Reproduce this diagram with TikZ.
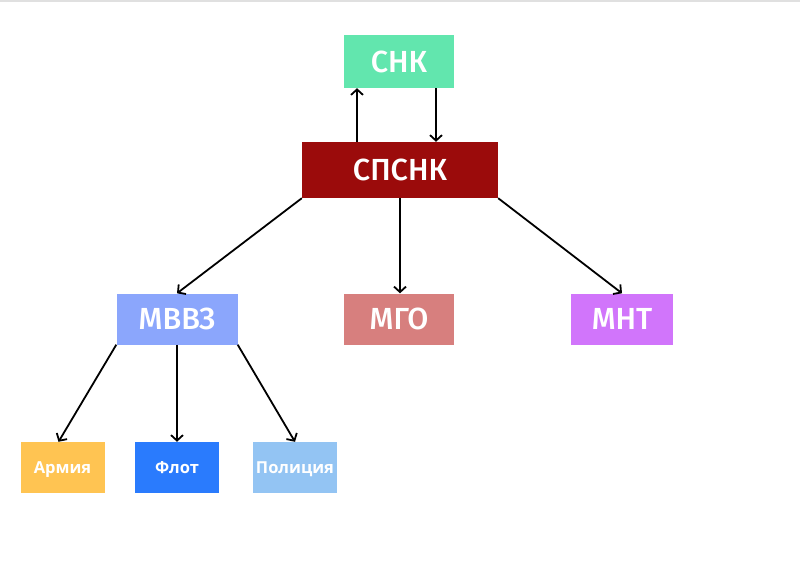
\documentclass[tikz,border=0pt]{standalone}
\usepackage{fontspec}
\setmainfont{Open Sans}
\newfontfamily\medfont{Fira Sans Medium}
\usetikzlibrary{arrows.meta}
\definecolor{cSNK}{HTML}{62E6AE}
\definecolor{cSPSNK}{HTML}{9B0B0B}
\definecolor{cMVVZ}{HTML}{8BA6FC}
\definecolor{cMGO}{HTML}{D77F7E}
\definecolor{cMNT}{HTML}{D175FB}
\definecolor{cArm}{HTML}{FFC452}
\definecolor{cFlot}{HTML}{2A7BFD}
\definecolor{cPol}{HTML}{93C4F3}
\tikzset{
  big/.style={inner sep=0pt, text=white, text depth=0pt, font=\medfont\fontsize{30.5}{33}\selectfont, minimum height=51pt},
  small/.style={inner sep=0pt, text=white, text depth=0pt, font=\fontsize{16.5}{19}\selectfont\bfseries, minimum height=51pt, minimum width=84pt},
  arr/.style={line width=1.8pt, -{Straight Barb[length=5.5pt,width=12pt,line width=1.8pt]}}
}
\begin{document}
\begin{tikzpicture}[x=1pt,y=-1pt]
\useasboundingbox (0,0) rectangle (800,571);
\fill[white] (0,0) rectangle (800,571);
\draw[black!12, line width=1.5pt] (0,0.75) -- (800,0.75);
\node[big, fill=cSNK, minimum width=110pt, minimum height=53pt] (snk) at (399,61.5) {СНК};
\node[big, fill=cSPSNK, minimum width=196pt, minimum height=56pt] (spsnk) at (400,170) {СПСНК};
\node[big, fill=cMVVZ, minimum width=121pt] (mvvz) at (177,319) {МВВЗ};
\node[big, fill=cMGO, minimum width=110pt] (mgo) at (399,319) {МГО};
\node[big, fill=cMNT, minimum width=102pt] (mnt) at (622,319) {МНТ};
\node[small, fill=cArm] (arm) at (62.5,467.5) {Армия};
\node[small, fill=cFlot] (flot) at (177,467.5) {Флот};
\node[small, fill=cPol] (pol) at (295,467.5) {Полиция};
\draw[arr] ([xshift=-43pt]spsnk.north) -- ([xshift=-42pt]snk.south);
\draw[arr] ([xshift=37pt]snk.south) -- ([xshift=36pt]spsnk.north);
\draw[arr] (spsnk.south west) -- (mvvz.north);
\draw[arr] (spsnk.south) -- ([xshift=1pt]mgo.north);
\draw[arr] (spsnk.south east) -- (mnt.north);
\draw[arr] (mvvz.south west) -- ([xshift=-4pt]arm.north);
\draw[arr] (mvvz.south) -- (flot.north);
\draw[arr] (mvvz.south east) -- (pol.north);
\end{tikzpicture}
\end{document}
